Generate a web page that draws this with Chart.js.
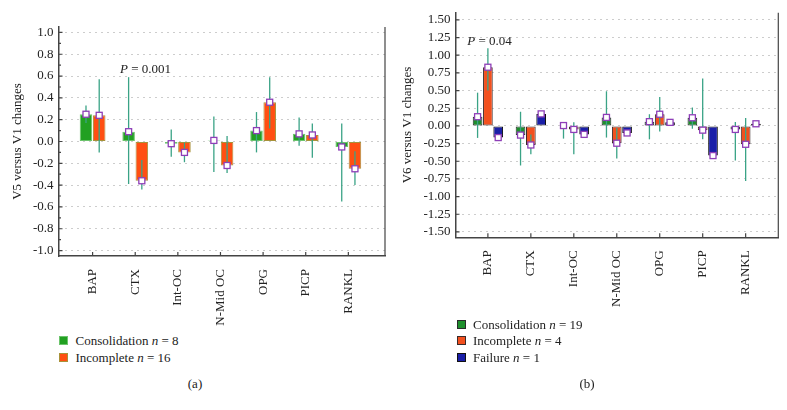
<!DOCTYPE html>
<html>
<head>
<meta charset="utf-8">
<script src="https://cdn.jsdelivr.net/npm/chart.js@4.4.0/dist/chart.umd.min.js"></script>
<style>
    body { margin: 0; width: 787px; height: 410px; background: #fff; position: relative; overflow: hidden;
           font-family: "Liberation Serif", "DejaVu Serif", serif; color: #222; }
    canvas { position: absolute; top: 0; }
    #chartA { left: 0; }
    #chartB { left: 400px; }
    .legend { position: absolute; font-size: 13px; }
    .legend .row { height: 16.6px; line-height: 16.6px; white-space: nowrap; }
    .legend .box { display: inline-block; width: 7px; height: 7px; border: 1px solid; margin-right: 7.5px; vertical-align: 0px; }
    .caption { position: absolute; top: 376px; font-size: 13px; transform: translateX(-50%); }
</style>
</head>
<body>
<canvas id="chartA" width="395" height="330"></canvas>
<canvas id="chartB" width="387" height="330"></canvas>
<div class="legend" id="legendA" style="left:59px; top:333px;"></div>
<div class="legend" id="legendB" style="left:456.5px; top:316.5px;"></div>
<div class="caption" style="left:195px;">(a)</div>
<div class="caption" style="left:587px;">(b)</div>
<script>
const FONT = '"Liberation Serif", "DejaVu Serif", serif';

// Markers
const categories = ['BAP', 'CTX', 'Int-OC', 'N-Mid OC', 'OPG', 'PICP', 'RANKL'];

// (a) V5 versus V1 changes
const v5Consolidation = [0.25, 0.09, -0.02, 0.01, 0.10, 0.07, -0.05];
const v5ConsolidationLow = [0.17, -0.39, -0.14, -0.28, -0.10, -0.04, -0.55];
const v5ConsolidationHigh = [0.33, 0.59, 0.11, 0.23, 0.27, 0.22, 0.165];
const v5Incomplete = [0.24, -0.36, -0.10, -0.22, 0.36, 0.06, -0.25];
const v5IncompleteLow = [-0.10, -0.44, -0.19, -0.29, 0.12, -0.15, -0.40];
const v5IncompleteHigh = [0.57, -0.17, -0.01, 0.05, 0.59, 0.165, -0.09];
const v5Counts = [8, 16];

// (b) V6 versus V1 changes
const v6Consolidation = [0.13, -0.13, 0.005, 0.12, 0.06, 0.115, -0.05];
const v6ConsolidationLow = [-0.17, -0.56, -0.18, -0.165, -0.19, -0.04, -0.49];
const v6ConsolidationHigh = [0.47, 0.20, 0.055, 0.49, 0.165, 0.26, 0.055];
const v6Incomplete = [0.83, -0.27, -0.05, -0.245, 0.165, -0.06, -0.26];
const v6IncompleteLow = [0.50, -0.40, -0.40, -0.46, -0.08, -0.19, -0.78];
const v6IncompleteHigh = [1.10, -0.12, 0.05, -0.03, 0.41, 0.67, 0.11];
const v6Failure = [-0.165, 0.17, -0.12, -0.10, 0.05, -0.42, 0.03];
const v6Counts = [19, 4, 1];

const WHISKER = '#3aa386';
const MARKER = '#8e3fb8';

// Whiskers, mean markers, inner ticks, right frame and P label
const extrasPlugin = {
    id: 'extras',
    afterDatasetsDraw(chart) {
        const ctx = chart.ctx;
        const y = chart.scales.y;
        chart.data.datasets.forEach((ds, di) => {
            const bars = chart.getDatasetMeta(di).data;
            if (!ds.low) return;
            ctx.save();
            ctx.strokeStyle = WHISKER;
            ctx.lineWidth = 1.3;
            bars.forEach((bar, i) => {
                ctx.beginPath();
                ctx.moveTo(bar.x, y.getPixelForValue(ds.low[i]));
                ctx.lineTo(bar.x, y.getPixelForValue(ds.high[i]));
                ctx.stroke();
            });
            ctx.restore();
        });
        chart.data.datasets.forEach((ds, di) => {
            const bars = chart.getDatasetMeta(di).data;
            ctx.save();
            ctx.fillStyle = '#fff';
            ctx.strokeStyle = MARKER;
            ctx.lineWidth = 1.3;
            bars.forEach((bar, i) => {
                const py = y.getPixelForValue(ds.data[i].y);
                ctx.fillRect(bar.x - 3, py - 3, 6, 6);
                ctx.strokeRect(bar.x - 3, py - 3, 6, 6);
            });
            ctx.restore();
        });
    },
    afterDraw(chart, args, opts) {
        const ctx = chart.ctx;
        const area = chart.chartArea;
        const x = chart.scales.x;
        const y = chart.scales.y;
        ctx.save();
        ctx.strokeStyle = '#444';
        ctx.lineWidth = 1.2;
        // right side of the frame
        ctx.beginPath();
        ctx.moveTo(area.right, area.top);
        ctx.lineTo(area.right, area.bottom);
        ctx.stroke();
        // inward tick marks
        ctx.beginPath();
        y.ticks.forEach((t, i) => {
            const py = y.getPixelForValue(t.value);
            ctx.moveTo(area.left, py);
            ctx.lineTo(area.left + 4, py);
            if (opts.minor && i < y.ticks.length - 1) {
                const pm = y.getPixelForValue((t.value + y.ticks[i + 1].value) / 2);
                ctx.moveTo(area.left, pm);
                ctx.lineTo(area.left + 2.5, pm);
            }
        });
        x.ticks.forEach(t => {
            const px = x.getPixelForValue(t.value);
            ctx.moveTo(px, area.bottom);
            ctx.lineTo(px, area.bottom - 4);
        });
        ctx.stroke();
        // P value label
        const cx = x.getPixelForValue(opts.pAt[0]);
        const cy = y.getPixelForValue(opts.pAt[1]);
        const rest = ' = ' + opts.pText;
        ctx.font = 'italic 13px ' + FONT;
        const wP = ctx.measureText('P').width;
        ctx.font = '13px ' + FONT;
        const wR = ctx.measureText(rest).width;
        const left = cx - (wP + wR) / 2;
        ctx.fillStyle = '#222';
        ctx.textBaseline = 'middle';
        ctx.font = 'italic 13px ' + FONT;
        ctx.fillText('P', left, cy);
        ctx.font = '13px ' + FONT;
        ctx.fillText(rest, left + wP, cy);
        ctx.restore();
    }
};

function buildChart(canvasId, cfg) {
    const ctx = document.getElementById(canvasId).getContext('2d');
    return new Chart(ctx, {
        type: 'bar',
        data: {
            datasets: cfg.series.map(s => ({
                label: s.label,
                data: s.values.map((v, i) => ({ x: i + 1, y: v })),
                low: s.low,
                high: s.high,
                backgroundColor: s.color,
                borderColor: s.border,
                borderWidth: 1,
                borderSkipped: false,
                categoryPercentage: cfg.categoryPercentage,
                barPercentage: cfg.barPercentage
            }))
        },
        options: {
            responsive: false,
            animation: false,
            layout: { padding: cfg.padding },
            plugins: {
                legend: { display: false },
                tooltip: { enabled: false },
                extras: { pAt: cfg.pAt, pText: cfg.pText, minor: cfg.minor }
            },
            scales: {
                x: {
                    type: 'linear',
                    min: cfg.xMin,
                    max: cfg.xMax,
                    offset: false,
                    grid: { display: false, offset: false },
                    border: { display: true, color: '#444', width: 1.5 },
                    afterBuildTicks: axis => { axis.ticks = categories.map((c, i) => ({ value: i + 1 })); },
                    afterFit: axis => { axis.height = cfg.xHeight; },
                    ticks: {
                        autoSkip: false,
                        maxRotation: 90,
                        minRotation: 90,
                        padding: 5,
                        color: '#222',
                        font: { family: FONT, size: 13 },
                        callback: v => categories[Math.round(v) - 1]
                    }
                },
                y: {
                    min: cfg.yMin,
                    max: cfg.yMax,
                    afterFit: axis => { axis.width = cfg.yWidth; },
                    grid: { color: '#9a9a9a', lineWidth: 1, drawTicks: false },
                    border: { display: true, color: '#444', width: 1.5, dash: [1, 5] },
                    title: {
                        display: true,
                        text: cfg.yTitle,
                        color: '#222',
                        font: { family: FONT, size: 13 },
                        padding: { top: cfg.titlePad, bottom: 0 }
                    },
                    ticks: {
                        stepSize: cfg.step,
                        includeBounds: false,
                        padding: 5,
                        color: '#222',
                        font: { family: FONT, size: 13 },
                        callback: v => v.toFixed(cfg.decimals)
                    }
                }
            }
        },
        plugins: [extrasPlugin]
    });
}

function buildLegend(elId, items) {
    document.getElementById(elId).innerHTML = items.map(it =>
        `<div class="row"><span class="box" style="background:${it.color};border-color:${it.border}"></span>${it.label} <i>n</i> = ${it.n}</div>`
    ).join('');
}

const seriesA = [
    { label: 'Consolidation', values: v5Consolidation, low: v5ConsolidationLow, high: v5ConsolidationHigh, color: '#22a022', border: '#6cc46c', n: v5Counts[0] },
    { label: 'Incomplete', values: v5Incomplete, low: v5IncompleteLow, high: v5IncompleteHigh, color: '#ff4f12', border: '#a8923a', n: v5Counts[1] }
];
const seriesB = [
    { label: 'Consolidation', values: v6Consolidation, low: v6ConsolidationLow, high: v6ConsolidationHigh, color: '#1e8f2c', border: '#2a2a2a', n: v6Counts[0] },
    { label: 'Incomplete', values: v6Incomplete, low: v6IncompleteLow, high: v6IncompleteHigh, color: '#f2501e', border: '#3a2a2a', n: v6Counts[1] },
    { label: 'Failure', values: v6Failure, low: null, high: null, color: '#1a1fa8', border: '#111', n: v6Counts[2] }
];

buildChart('chartA', {
    series: seriesA,
    xMin: 0.2, xMax: 7.86, xHeight: 74,
    yMin: -1.05, yMax: 1.05, step: 0.2, decimals: 1, yWidth: 58.5, titlePad: 10,
    padding: { top: 27, right: 10, left: 0, bottom: 0 },
    categoryPercentage: 0.62, barPercentage: 0.95,
    yTitle: 'V5 versus V1 changes',
    pAt: [2.24, 0.66], pText: '0.001', minor: true
});

buildChart('chartB', {
    series: seriesB,
    xMin: 0.246, xMax: 7.76, xHeight: 92.7,
    yMin: -1.576, yMax: 1.6, step: 0.25, decimals: 2, yWidth: 55.5, titlePad: 0,
    padding: { top: 7, right: 8.7, left: 0, bottom: 0 },
    categoryPercentage: 0.72, barPercentage: 0.94,
    yTitle: 'V6 versus V1 changes',
    pAt: [1.04, 1.19], pText: '0.04', minor: false
});

buildLegend('legendA', seriesA);
buildLegend('legendB', seriesB);
</script>
</body>
</html>
